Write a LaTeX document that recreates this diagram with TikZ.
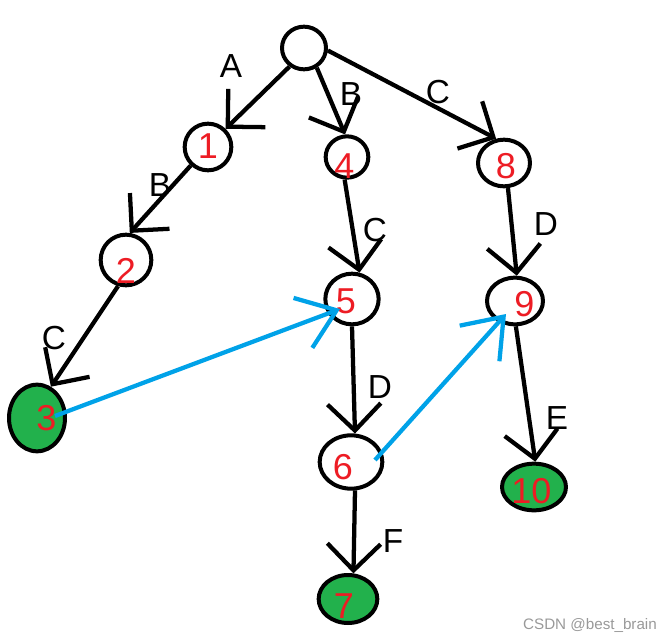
\documentclass[tikz,border=0pt]{standalone}
\usepackage{fontspec}
\setmainfont{Liberation Sans}
\usetikzlibrary{shapes.geometric,arrows.meta,calc,backgrounds}
\definecolor{paintred}{RGB}{237,28,36}
\definecolor{paintgreen}{RGB}{34,177,76}
\definecolor{paintblue}{RGB}{0,162,232}
% move a number inside its ellipse without changing the box
\newcommand\numshift[3]{\raisebox{#2}[\height][\depth]{\hspace*{#1}#3\hspace*{-#1}}}
\begin{document}
\begin{tikzpicture}[x=.75pt,y=-.75pt,line join=round,
	state/.style={ellipse,draw,line width=3pt,inner sep=0pt,text=paintred,font=\fontsize{27}{27}\selectfont},
	leaf/.style={state,fill=paintgreen},
	edge/.style={line width=3.2pt,-{Straight Barb[length=20pt,width=40pt]}},
	fail/.style={paintblue,line width=3.2pt,-{Straight Barb[length=27pt,width=40pt]}},
	letter/.style={font=\fontsize{25}{25}\selectfont},
	wm/.style={text=black!40,font=\fontsize{11.4}{12}\selectfont}]
	\useasboundingbox (0,0) rectangle (672,639);
	% trie nodes
	\foreach \n/\x/\y/\w/\h/\dx/\dy/\t in {root/304/48/33/32/0/0/,n1/208/147/35/35/0/1/1,n4/347/157/32/31/-2/-7/4,
		n8/504/163/39/35/1.5/-2/8,n2/126/260/38/38/0/-8/2,n5/352/299/40/38/-4.5/-1.5/5,n6/351/462/47/40/-6/-4/6,
		n9/515/301/42/35/7/-2/9}
	\node[state,minimum width=\w pt,minimum height=\h pt] (\n) at (\x,\y) {\numshift{\dx pt}{\dy pt}{\t}};
	\foreach \n/\x/\y/\w/\h/\dx/\dy/\t in {n3/37/418/42/50/7/0/3,n7/348/599/44/36/-3/-5/7,n10/534/487/48/35/-2/-3/10}
	\node[leaf,minimum width=\w pt,minimum height=\h pt] (\n) at (\x,\y) {\numshift{\dx pt}{\dy pt}{\t}};
	% goto edges
	\begin{scope}[on background layer]
	\foreach \a/\b in {root.232/n1.46,root.303/n4.95,root.354/n8.108,n1.227/n2.82,n2.253/n3.66,
		n4.264/n5.74,n5.270/n6.82,n6.278/n7.78,n8.279/n9.86,n9.272/n10.87}
	\draw[edge] (\a)--(\b);
	\end{scope}
	\foreach \n/\x/\y/\t in {lA/231/66/A,lB1/160/185/B,lC1/54/338/C,lB2/351/94/B,lC2/438/92/C,
		lC3/375/230/C,lD1/546/224/D,lD2/380/387/D,lE/557/418/E,lF/393/541/F}
	\node[letter] (\n) at (\x,\y) {\t};
	% fail links
	\draw[fail] ($(n3)+(18,-2)$)--($(n5)+(-12,10)$);
	\draw[fail] ($(n6)+(24,-2)$)--($(n9)+(-9,13)$);
	\node[wm] (credit) at (590,625) {CSDN @best\_brain};
\end{tikzpicture}
\end{document}
